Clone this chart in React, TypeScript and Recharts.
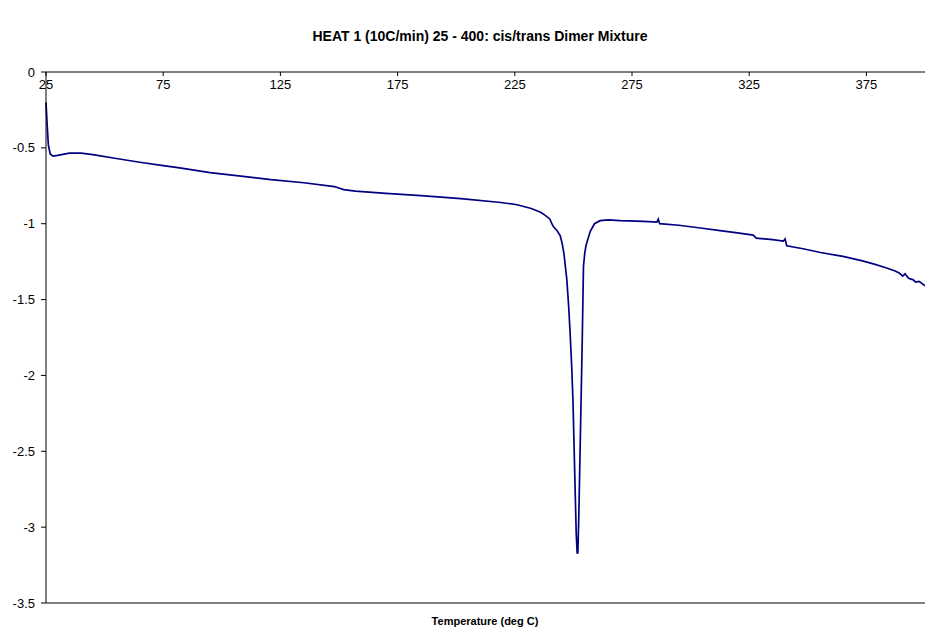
import { FC } from 'react';
import { LineChart, Line, XAxis, YAxis, ReferenceLine } from 'recharts';

// temperature (deg C) readings along the first heating scan
const temperature = [
  25, 25.5, 26, 26.8, 28, 30, 35, 40, 45, 55, 65, 75, 82, 95, 110, 121, 135,
  148, 152, 157, 170, 185, 202, 219, 226, 232, 236, 238, 240, 240.8, 241.5,
  243, 244.4, 245.2, 246, 247.2, 248, 248.6, 249.3, 249.8, 250.5, 251.2,
  251.6, 251.9, 252.3, 253, 253.7, 254.3, 254.8, 255.3, 255.8, 257.2, 259,
  261.4, 265, 270, 280, 285.6, 286.2, 286.8, 295, 305, 312.6, 320, 326.7, 328,
  335, 339.6, 340.3, 341, 348, 355.4, 365, 373.3, 378, 383.3, 387, 389, 390.5,
  391.5, 393, 395, 396, 397.5, 400,
];

// heat flow signal at each temperature
const heatFlow = [
  -0.2, -0.35, -0.48, -0.54, -0.555, -0.55, -0.535, -0.535, -0.545, -0.57,
  -0.595, -0.617, -0.632, -0.663, -0.69, -0.71, -0.73, -0.755, -0.775, -0.785,
  -0.8, -0.815, -0.835, -0.86, -0.875, -0.9, -0.925, -0.945, -0.97, -1.0,
  -1.02, -1.045, -1.08, -1.13, -1.2, -1.37, -1.55, -1.72, -1.95, -2.16, -2.6,
  -3.04, -3.17, -3.17, -2.93, -2.38, -1.83, -1.28, -1.2, -1.15, -1.12, -1.05,
  -1.0, -0.98, -0.975, -0.98, -0.985, -0.99, -0.97, -1.0, -1.01, -1.03,
  -1.045, -1.06, -1.075, -1.095, -1.105, -1.115, -1.1, -1.145, -1.165, -1.19,
  -1.215, -1.245, -1.265, -1.29, -1.31, -1.325, -1.345, -1.33, -1.36, -1.37,
  -1.385, -1.38, -1.41,
];

const xTicks = [25, 75, 125, 175, 225, 275, 325, 375];
const yTicks = [0, -0.5, -1, -1.5, -2, -2.5, -3, -3.5];

const title = 'HEAT 1 (10C/min) 25 - 400: cis/trans Dimer Mixture';
const xLabel = 'Temperature (deg C)';

const data = temperature.map((t, i) => ({ t, value: heatFlow[i] }));

const font = '"Liberation Sans", Arial, sans-serif';

const App: FC = () => {
  return (
    <div
      style={{
        position: 'absolute',
        left: 0,
        top: 0,
        width: 925,
        height: 634,
        background: '#fff',
        fontFamily: font,
      }}
    >
      <div
        style={{
          position: 'absolute',
          left: 0,
          width: 960,
          top: 28,
          textAlign: 'center',
          fontSize: 14,
          fontWeight: 'bold',
          color: '#000',
        }}
      >
        {title}
      </div>
      <LineChart
        width={925}
        height={634}
        data={data}
        margin={{ top: 72, right: 0, bottom: 31, left: 0 }}
        style={{ fontFamily: font }}
      >
        <ReferenceLine y={-3.5} stroke="#808080" strokeWidth={2} />
        <XAxis
          dataKey="t"
          type="number"
          domain={[25, 400]}
          ticks={xTicks}
          orientation="top"
          mirror
          height={20}
          axisLine={{ stroke: '#000' }}
          tickLine={{ stroke: '#000' }}
          tickSize={4}
          tickMargin={4}
          tick={{ fontSize: 13, fill: '#000' }}
          interval={0}
        />
        <YAxis
          type="number"
          domain={[-3.5, 0]}
          ticks={yTicks}
          width={46}
          axisLine={{ stroke: '#000' }}
          tickLine={{ stroke: '#000' }}
          tickSize={5}
          tickMargin={6}
          tick={{ fontSize: 13, fill: '#000' }}
          interval={0}
        />
        <Line
          dataKey="value"
          type="linear"
          stroke="#000080"
          strokeWidth={1.7}
          dot={false}
          isAnimationActive={false}
        />
      </LineChart>
      <div
        style={{
          position: 'absolute',
          left: 0,
          width: 970,
          top: 615,
          textAlign: 'center',
          fontSize: 11,
          fontWeight: 'bold',
          color: '#000',
        }}
      >
        {xLabel}
      </div>
    </div>
  );
};

export default App;
